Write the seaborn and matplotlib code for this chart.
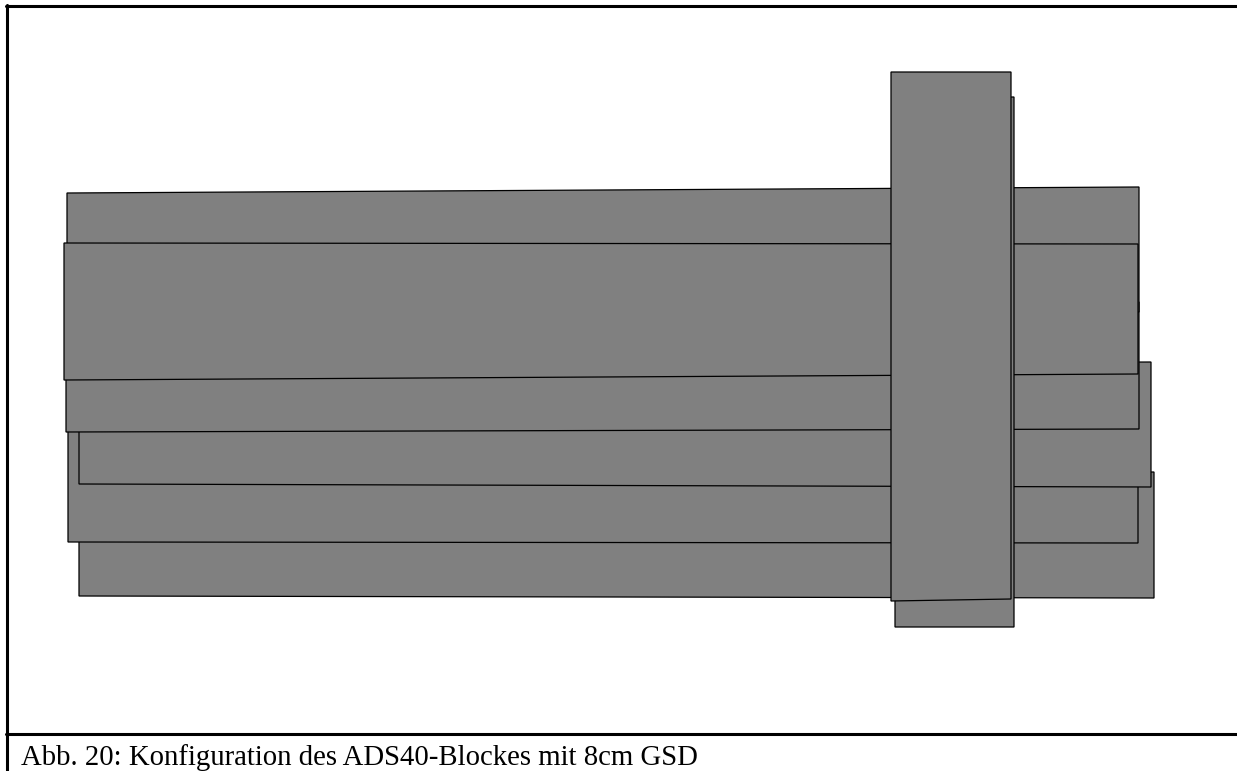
import matplotlib
matplotlib.use("Agg")
import matplotlib.pyplot as plt
import seaborn as sns

# Flugstreifen (Pixelkoordinaten der Vorlage, y nach unten)
# Reihenfolge = Zeichenreihenfolge (unten -> oben)
strip_names = ["F", "E", "D", "C", "A", "B", "V2", "V1"]
x_left = [79, 68, 79, 66, 67, 64, 895, 891]
x_right = [1154, 1138, 1151, 1139, 1139, 1138, 1014, 1011]
y_top_left = [476, 420, 366, 306, 193, 243, 98, 72]
y_top_right = [472, 417, 362, 302, 187, 244, 97, 72]
y_bot_left = [596, 542, 484, 432, 318, 380, 627, 601]
y_bot_right = [598, 543, 487, 429, 312, 374, 627, 599]

caption = "Abb. 20: Konfiguration des ADS40-Blockes mit 8cm GSD"

sns.set_theme(style="white")

fig = plt.figure(figsize=(12.37, 7.71), dpi=100)
ax = fig.add_axes([0, 0, 1, 1])
ax.set_xlim(0, 1237)
ax.set_ylim(771, 0)
ax.axis("off")

for i in range(len(strip_names)):
    xs = [x_left[i], x_right[i], x_right[i], x_left[i]]
    ys = [y_top_left[i], y_top_right[i], y_bot_right[i], y_bot_left[i]]
    ax.fill(xs, ys, facecolor="#808080", edgecolor="black", linewidth=0.9, zorder=2 + i)

# Rahmen und Trennlinie
ax.plot([7, 7], [5, 771], color="black", linewidth=2.2, zorder=20)
ax.plot([5.5, 1237], [6, 6], color="black", linewidth=2.2, zorder=20)
ax.plot([5.5, 1237], [734, 734], color="black", linewidth=2.2, zorder=20)

ax.text(21, 765, caption, fontsize=20.7, family="Liberation Serif",
        ha="left", va="baseline", color="black")

fig.savefig("out.png", dpi=100)
